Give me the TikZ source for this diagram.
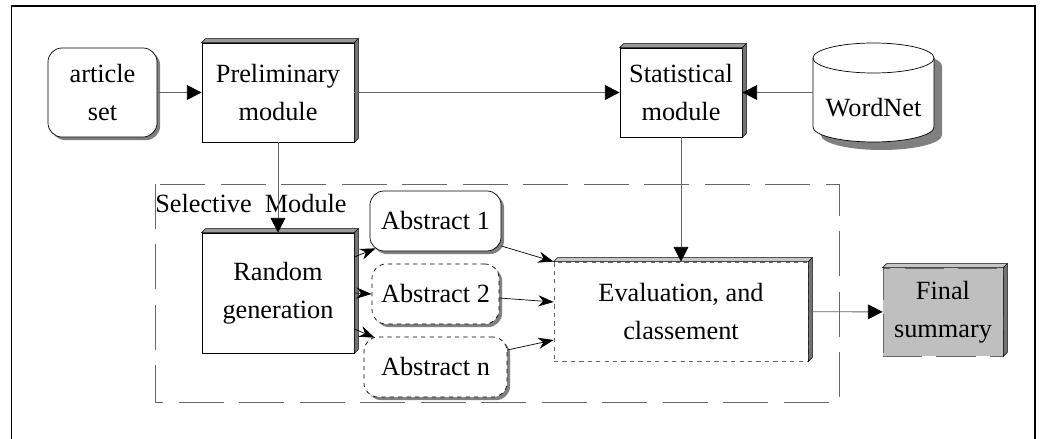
\documentclass[tikz,border=0pt]{standalone}
\usepackage{fontspec}
\setmainfont{Liberation Serif}
\usetikzlibrary{arrows.meta,shadows}
\definecolor{LineClr}{rgb}{0.4,0.4,0.4}
\definecolor{TopClr}{rgb}{0.6,0.6,0.6}
\definecolor{LightTopClr}{rgb}{0.78,0.78,0.78}
\definecolor{SideClr}{rgb}{0.45,0.45,0.45}
\definecolor{FinalClr}{rgb}{0.75,0.75,0.75}
\definecolor{ShadowClr}{rgb}{0.5,0.5,0.5}

\newcommand{\ModuleDepth}[2]{%
  \filldraw[fill=#2,draw=black,line width=0.4pt] (#1.north west) -- ++(4,-4)
    -- ([shift={(4,-4)}]#1.north east) -- (#1.north east) -- cycle;
  \filldraw[fill=SideClr,draw=black,line width=0.4pt] (#1.north east) -- ++(4,-4)
    -- ([shift={(4,-4)}]#1.south east) -- (#1.south east) -- cycle;
}

\begin{document}
\begin{tikzpicture}[x=0.025cm,y=-0.025cm,
  every node/.style={font=\fontsize{18.7pt}{26.9pt}\selectfont,align=center,inner sep=0pt},
  module/.style={draw,fill=white,line width=0.5pt},
  roundbox/.style={draw,fill=white,line width=0.5pt,rounded corners=10pt,
    drop shadow={shadow xshift=2.2pt,shadow yshift=-2.2pt,fill=ShadowClr,opacity=1}},
  flow/.style={draw=LineClr,line width=0.6pt,-{Triangle[length=10.5pt,width=10.5pt,color=black]}},
  feed/.style={draw=black,line width=0.5pt,-{Stealth[length=11pt,width=8pt]}}]
\useasboundingbox (0,0) rectangle (1040,439);

\draw[line width=1pt] (11.5,439) -- (11.5,6) -- (1035,6) -- (1035,439);
\draw[draw=LineClr,line width=0.6pt,dash pattern=on 32pt off 11pt] (155,184) rectangle (839,402);
\node[anchor=base west] (selective) at (155,213) {Selective~ Module};

\node[roundbox,minimum width=2.725cm,minimum height=2.225cm] (article) at (102.5,92.5) {article\\set};
\node[module,minimum width=3.8cm,minimum height=2.475cm] (prelim) at (278,92.5) {Preliminary\\module};
\node[module,minimum width=3.05cm,minimum height=2.225cm] (stat) at (681,92.5) {Statistical\\module};

% database drum
\begin{scope}[shift={(873.5,108)}]
\fill[ShadowClr] (-52.5,-42) -- (-52.5,27) arc[start angle=180,end angle=0,x radius=60.5,y radius=15]
  -- (68.5,-42) arc[start angle=0,end angle=-180,x radius=60.5,y radius=15] -- cycle;
\filldraw[fill=white,line width=0.5pt] (-60.5,-50) -- (-60.5,19) arc[start angle=180,end angle=0,x radius=60.5,y radius=15]
  -- (60.5,-50) arc[start angle=0,end angle=-180,x radius=60.5,y radius=15] -- cycle;
\draw[line width=0.5pt] (-60.5,-50) arc[start angle=180,end angle=0,x radius=60.5,y radius=15];
\end{scope}
\node[minimum width=3.025cm] (wordnet) at (873.5,108) {WordNet};

\node[module,minimum width=3.8cm,minimum height=3cm] (random) at (278,293) {Random\\generation};
\node[roundbox,minimum width=3.275cm,minimum height=1.5cm] (abs1) at (435.5,221) {Abstract 1};
\node[roundbox,dashed,minimum width=3.175cm,minimum height=1.5cm] (abs2) at (435.5,294) {Abstract 2};
\node[roundbox,dashed,minimum width=3.575cm,minimum height=1.5cm] (absn) at (435.5,367) {Abstract n};
\node[module,draw=LineClr,dashed,minimum width=6.35cm,minimum height=2.475cm] (eval) at (681,311.5) {Evaluation, and\\classement};
\node[module,fill=FinalClr,draw=black!60,dash pattern=on 28pt off 10pt,minimum width=3cm,minimum height=2.2cm] (final) at (943,312) {Final\\summary};

\ModuleDepth{prelim}{TopClr}
\ModuleDepth{stat}{TopClr}
\ModuleDepth{random}{TopClr}
\ModuleDepth{eval}{LightTopClr}
\ModuleDepth{final}{LightTopClr}

\draw[flow] (article) -- (prelim);
\draw[flow] (prelim) -- (stat);
\draw[flow] (wordnet.west |- stat.east) -- (stat.east);
\draw[flow] (prelim) -- (random);
\draw[flow] (stat) -- (stat |- eval.north);
\draw[flow] (eval) -- (final);

\draw[feed] ([shift={(0,-36)}]random.east) -- ([shift={(6,-3)}]abs1.south west);
\draw[feed] (random.east) -- (abs2.west);
\draw[feed] ([shift={(0,36)}]random.east) -- ([shift={(11,1)}]absn.north west);
\draw[feed] ([shift={(0,25)}]abs1.east) -- (eval.north west);
\draw[feed] ([shift={(0,4)}]abs2.east) -- ([shift={(0,-9.5)}]eval.west);
\draw[feed] ([shift={(0,-17)}]absn.east) -- ([shift={(0,28.5)}]eval.west);
\end{tikzpicture}
\end{document}
